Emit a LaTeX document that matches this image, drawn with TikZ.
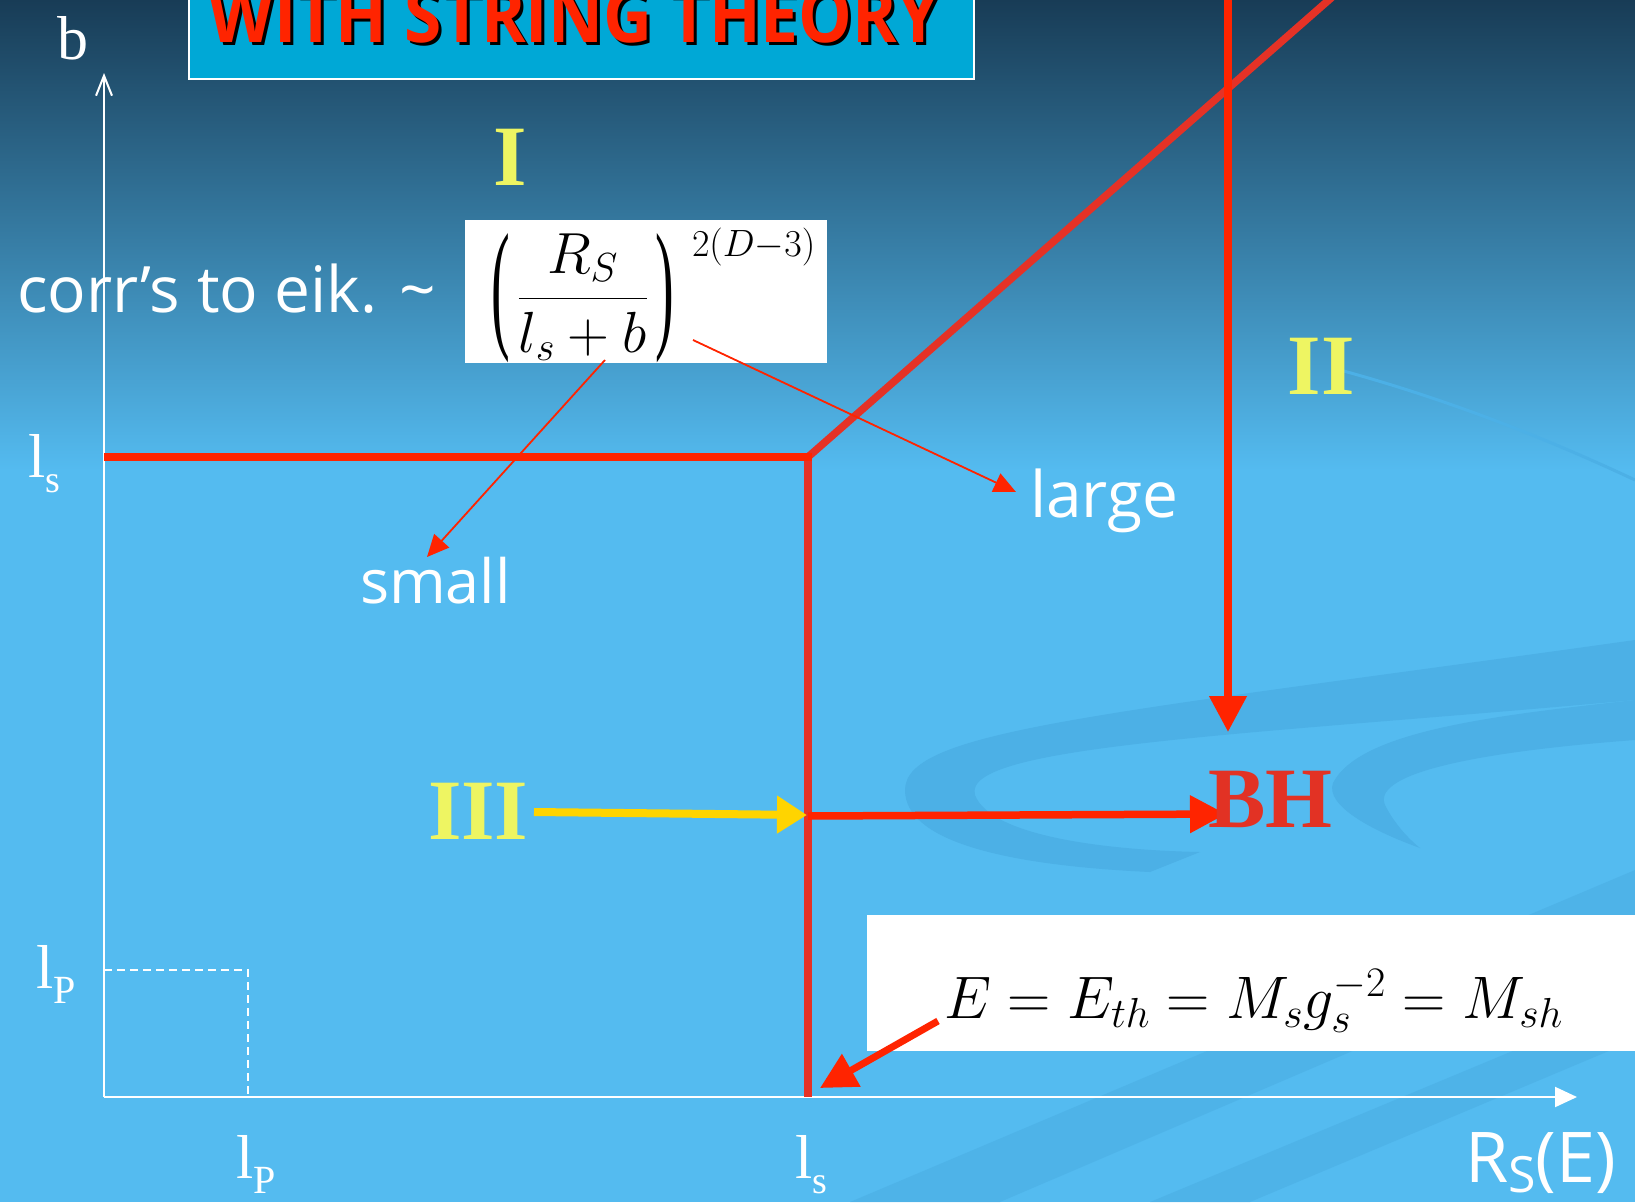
\RequirePackage{fix-cm}
\documentclass[tikz,border=0pt]{standalone}
\usepackage{fontspec}
\setmainfont{Liberation Serif}
\newfontfamily\comicf{Open Sans}
\usetikzlibrary{arrows.meta}
\definecolor{bgtop}{RGB}{24,60,86}
\definecolor{bgmid}{RGB}{58,138,188}
\definecolor{bgmain}{RGB}{84,187,240}
\definecolor{swirl}{RGB}{76,176,230}
\definecolor{titlebg}{RGB}{0,168,214}
\definecolor{redA}{RGB}{255,36,0}
\definecolor{redB}{RGB}{229,50,38}
\definecolor{bhred}{RGB}{226,50,36}
\definecolor{romyellow}{RGB}{238,245,98}
\definecolor{arryellow}{RGB}{255,212,0}
\newcommand{\bigparen}[1]{\vcenter{\hbox{\fontsize{56}{60}\selectfont\scalebox{1}[2.55]{#1}}}}
\begin{document}
\begin{tikzpicture}[x=1pt,y=-1pt,
  every node/.style={inner sep=0pt, outer sep=0pt},
  thickred/.style={line width=7.5pt},
  bigtip/.style={-{Triangle[length=36pt,width=36pt]}},
  thinred/.style={draw=redA, line width=1.8pt, -{Triangle[length=22pt,width=20pt]}},
  axisline/.style={draw=white, line width=2pt},
  serifl/.style={text=white, font=\fontsize{62}{70}\selectfont, anchor=base west},
  comic/.style={text=white, font=\comicf\fontsize{64}{70}\selectfont, anchor=base west},
  roman/.style={text=romyellow, font=\fontsize{86}{90}\selectfont\bfseries, anchor=base},
  mathbox/.style={fill=white, draw=none}
]
\useasboundingbox (0,0) rectangle (1635,1202);
\clip (0,0) rectangle (1635,1202);
% background
\fill[bgmain] (0,0) rectangle (1635,1202);
\shade[top color=bgtop, middle color=bgmid, bottom color=bgmain] (0,0) rectangle (1635,470);
% background swirls
\fill[swirl] (905,790) .. controls (905,730) and (1100,715) .. (1635,640) -- (1635,700)
  .. controls (1250,735) and (960,745) .. (975,795) .. controls (990,835) and (1100,850) .. (1200,852)
  -- (1150,872) .. controls (1000,865) and (905,840) .. (905,790) -- cycle;
\fill[swirl] (1333,783) .. controls (1360,730) and (1500,715) .. (1635,700) -- (1635,740)
  .. controls (1500,750) and (1370,770) .. (1385,805) .. controls (1395,825) and (1410,840) .. (1420,848)
  .. controls (1370,830) and (1325,805) .. (1333,783) -- cycle;
\fill[swirl, opacity=0.7] (850,1202) -- (1635,870) -- (1635,930) -- (1000,1202) -- cycle;
\fill[swirl, opacity=0.7] (1150,1202) -- (1635,1000) -- (1635,1040) -- (1250,1202) -- cycle;
\draw[swirl, line width=3pt] (1340,370) .. controls (1450,400) and (1550,440) .. (1635,480);
% title
\node[draw=white, line width=2pt, fill=titlebg, minimum width=785pt, minimum height=100pt, anchor=south west] (titlebox) at (189,79) {};
\node[anchor=base, text=black, font=\comicf\bfseries\fontsize{76}{80}\selectfont] (titleshadow) at (577,45) {\scalebox{0.89}[1]{WITH STRING THEORY}};
\node[anchor=base, text=redA, font=\comicf\bfseries\fontsize{76}{80}\selectfont] (title) at (574,42) {\scalebox{0.89}[1]{WITH STRING THEORY}};
% axes
\coordinate (O) at (104,1097);
\coordinate (yend) at (104,73);
\coordinate (xend) at (1577,1097);
\draw[axisline, -{Straight Barb[length=20pt,width=16pt]}] (O) -- (yend);
\draw[axisline, -{Triangle[length=22pt,width=20pt]}] (O) -- (xend);
% dashed lP box
\coordinate (lpy) at (104,970);
\coordinate (lpc) at (248,970);
\coordinate (lpx) at (248,1097);
\draw[white, line width=1.6pt, dash pattern=on 8pt off 5pt] (lpy) -- (lpc) -- (lpx);
% red region lines
\coordinate (lsy) at (104,457);
\coordinate (corner) at (808,457);
\coordinate (lsx) at (808,1097);
\coordinate (diagend) at (1420,-80);
\draw[redB, thickred] (corner) -- (lsx);
\draw[redB, thickred] (corner) -- (diagend);
\draw[redA, thickred, shorten >=-3.75pt] (lsy) -- (corner);
\coordinate (IItop) at (1228,-10);
\coordinate (IItip) at (1228,732);
\draw[redA, thickred, bigtip] (IItop) -- (IItip);
\coordinate (hstart) at (808,816);
\coordinate (htip) at (1226,814);
\draw[redA, thickred, bigtip] (hstart) -- (htip);
\coordinate (ystart) at (534,812);
\coordinate (ytip) at (807,815);
\draw[arryellow, line width=8pt, -{Triangle[length=30pt,width=36pt]}] (ystart) -- (ytip);
% formula boxes
\node[mathbox, minimum width=362pt, minimum height=143pt, anchor=north west] (f1box) at (465,220) {};
\node[anchor=west] (f1) at (491,298) {\fontsize{58}{62}\selectfont $\bigparen{(}\hspace{8pt}\displaystyle\frac{R_S}{l_s+b}\hspace{8pt}\bigparen{)}$};
\node[anchor=north west] (f1exp) at (692,228) {\fontsize{38}{40}\selectfont $2(D{-}3)$};
\node[mathbox, minimum width=770pt, minimum height=136pt, anchor=north west] (f2box) at (867,915) {};
\node[anchor=base west] (f2) at (944,1018) {\fontsize{60}{66}\selectfont $E=E_{th}=M_sg_s^{-2}=M_{sh}$};
\coordinate (fstart) at (938,1021);
\coordinate (ftip) at (820,1088);
\draw[redA, line width=7pt, bigtip] (fstart) -- (ftip);
% comic texts
\node[comic] (corr) at (17,312) {corr’s to eik.\hspace{22pt}\textasciitilde};
\node[comic] (large) at (1030,517) {large};
\node[comic, font=\comicf\fontsize{61}{70}\selectfont] (small) at (360,603) {small};
\node[comic, font=\comicf\fontsize{70}{76}\selectfont] (rse) at (1465,1182) {R\raisebox{-10pt}{\fontsize{50}{54}\selectfont S}(E)};
\coordinate (smallfrom) at (605,360);
\coordinate (smalltip) at (427,557);
\draw[thinred] (smallfrom) -- (smalltip);
\coordinate (largefrom) at (693,340);
\coordinate (largetip) at (1016,492);
\draw[thinred] (largefrom) -- (largetip);
% roman numerals and BH
\node[roman] (rI) at (510,185) {I};
\node[roman] (rII) at (1321,394) {II};
\node[roman, anchor=base west] (rIII) at (428,839) {III};
\node[text=bhred, font=\fontsize{86}{90}\selectfont\bfseries, anchor=base west] (bh) at (1208,827) {BH};
% axis labels
\node[serifl] (ylab) at (57,59) {b};
\node[serifl] (lsL) at (28,477) {l\raisebox{-15pt}{\fontsize{38}{40}\selectfont s}};
\node[serifl] (lpL) at (36,988) {l\raisebox{-15pt}{\fontsize{40}{44}\selectfont P}};
\node[serifl] (lpB) at (236,1178) {l\raisebox{-15pt}{\fontsize{40}{44}\selectfont P}};
\node[serifl] (lsB) at (795,1178) {l\raisebox{-15pt}{\fontsize{38}{40}\selectfont s}};
\end{tikzpicture}
\end{document}
